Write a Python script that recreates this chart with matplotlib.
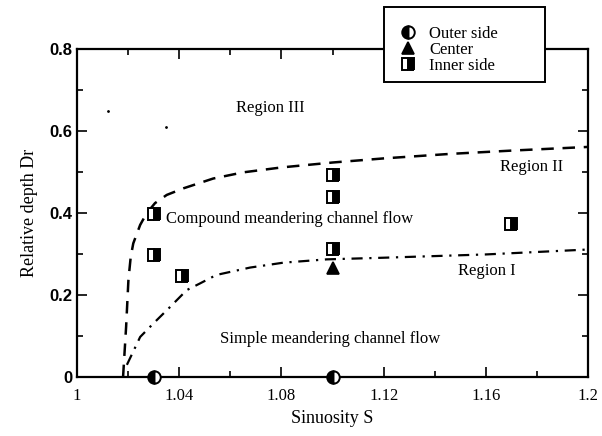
import numpy as np
import matplotlib.pyplot as plt
from matplotlib.patches import Rectangle

# measured points (sinuosity S, relative depth Dr)
outer_s = [1.03, 1.10]
outer_dr = [0.0, 0.0]
center_s = [1.10]
center_dr = [0.267]
inner_s = [1.03, 1.03, 1.041, 1.10, 1.10, 1.10, 1.17]
inner_dr = [0.398, 0.298, 0.246, 0.493, 0.440, 0.312, 0.373]

# boundary between region II and III (dashed)
upper_s = [1.018, 1.0192, 1.0201, 1.021, 1.022, 1.0247, 1.0272, 1.0305, 1.0351,
           1.0416, 1.0533, 1.065, 1.08, 1.10, 1.12, 1.146, 1.17, 1.20]
upper_dr = [0.0, 0.123, 0.237, 0.293, 0.326, 0.371, 0.399, 0.424, 0.444,
            0.46, 0.484, 0.499, 0.511, 0.523, 0.533, 0.544, 0.552, 0.561]

# boundary between region I and II (dash-dot)
lower_s = [1.0195, 1.0247, 1.0299, 1.0364, 1.0429, 1.048, 1.0545, 1.0677,
           1.0808, 1.0977, 1.12, 1.16, 1.20]
lower_dr = [0.03, 0.098, 0.131, 0.171, 0.212, 0.228, 0.249, 0.267,
            0.279, 0.287, 0.291, 0.299, 0.311]

serif = 'Liberation Serif'
W, H = 602, 436

fig = plt.figure(figsize=(W / 100, H / 100), dpi=100)
ax = fig.add_axes([0.128, 0.135, 0.849, 0.753])

ax.plot(upper_s, upper_dr, color='black', lw=1.8, dashes=(5, 3.5))
ax.plot(lower_s, lower_dr, color='black', lw=1.6, dashes=(5, 3, 1, 3))

h1, = ax.plot(outer_s, outer_dr, 'o', fillstyle='left', color='black',
              mfc='black', mfcalt='white', mec='black', mew=1.4, ms=9,
              clip_on=False, zorder=5)
h2, = ax.plot(center_s, center_dr, '^', color='black', mfc='black',
              mec='black', ms=8, mew=1.2, zorder=5)
h3, = ax.plot(inner_s, inner_dr, 's', fillstyle='right', color='black',
              mfc='black', mfcalt='white', mec='black', mew=1.4, ms=8.5,
              zorder=5)

# stray scan specks
ax.plot([1.012, 1.035], [0.649, 0.61], '.', color='black', ms=2)

ax.text(1.0755, 0.656, 'Region III', family=serif, fontsize=12,
        ha='center', va='center')
ax.text(1.178, 0.512, 'Region II', family=serif, fontsize=12,
        ha='center', va='center')
ax.text(1.1605, 0.259, 'Region I', family=serif, fontsize=12,
        ha='center', va='center')
ax.text(1.035, 0.385, 'Compound meandering channel flow', family=serif,
        fontsize=12, ha='left', va='center')
ax.text(1.056, 0.093, 'Simple meandering channel flow', family=serif,
        fontsize=12, ha='left', va='center')

ax.set_xlim(1.0, 1.2)
ax.set_ylim(0, 0.8)
ax.set_xticks(np.arange(1.0, 1.201, 0.04))
ax.set_xticks(np.arange(1.0, 1.201, 0.02), minor=True)
ax.set_yticks(np.arange(0, 0.81, 0.2))
ax.set_yticks(np.arange(0, 0.81, 0.1), minor=True)
ax.set_xticklabels(['1', '1.04', '1.08', '1.12', '1.16', '1.2'],
                   family=serif, fontsize=12)
ax.set_yticklabels(['0', '0.2', '0.4', '0.6', '0.8'], family='Liberation Sans',
                   fontsize=12, fontweight='bold')
ax.tick_params(which='both', direction='in', top=True, right=True, width=1.2)
ax.tick_params(which='major', length=7)
ax.tick_params(which='minor', length=4)
ax.tick_params(axis='x', pad=8)
for sp in ax.spines.values():
    sp.set_linewidth(1.6)

ax.set_xlabel('Sinuosity S', family=serif, fontsize=13)
ax.set_ylabel('Relative depth Dr', family=serif, fontsize=13, labelpad=8)

# legend box sticks out above the axes
box = Rectangle((384 / W, 1 - 82 / H), 161 / W, 75 / H,
                transform=fig.transFigure, facecolor='white',
                edgecolor='black', lw=1.4, zorder=9)
fig.add_artist(box)
leg = fig.legend([h1, h2, h3], ['Outer side', 'Center', 'Inner side'],
                 loc='upper left', bbox_to_anchor=(400 / W, 1 - 25.5 / H),
                 frameon=False, borderpad=0, labelspacing=0.0,
                 handlelength=1.0, handletextpad=0.74, borderaxespad=0,
                 prop={'family': serif, 'size': 12})
leg.set_zorder(10)

fig.savefig('out.png', dpi=100)
